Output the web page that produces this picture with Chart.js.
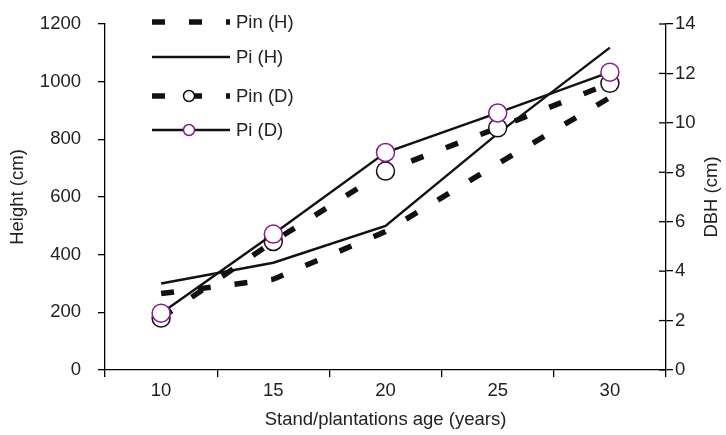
<!DOCTYPE html>
<html>
<head>
<meta charset="utf-8">
<script src="https://cdn.jsdelivr.net/npm/chart.js@4"></script>
<style>
  body { margin: 0; background: #fff; }
</style>
</head>
<body>
<canvas id="growthChart" width="726" height="435"></canvas>
<script>
const ages = ['10', '15', '20', '25', '30'];
const pinHeight = [265, 315, 480, 715, 945];
const piHeight = [300, 372, 500, 820, 1118];
const pinDbh = [2.1, 5.2, 8.05, 9.8, 11.6];
const piDbh = [2.3, 5.5, 8.8, 10.4, 12.05];
const seriesNames = ['Pin (H)', 'Pi (H)', 'Pin (D)', 'Pi (D)'];

const ink = '#111';
const purple = '#8a1a8a';
const dash = [13, 24];
const fontSize = 18.5;
const fontCss = fontSize + "px 'Liberation Sans', Arial, sans-serif";

Chart.defaults.font.family = "'Liberation Sans', Arial, sans-serif";
Chart.defaults.font.size = fontSize;
Chart.defaults.color = '#222';

// legend drawn by hand inside the plot, top-left
const insideLegend = {
    id: 'insideLegend',
    afterDraw(chart) {
        const c = chart.ctx;
        const rows = [22, 57, 96, 130];
        const x0 = 152, x1 = 230;
        c.save();
        chart.data.datasets.forEach((ds, i) => {
            const y = rows[i];
            c.strokeStyle = ink;
            c.lineWidth = ds.borderWidth;
            c.lineCap = 'butt';
            c.setLineDash(ds.borderDash || []);
            c.beginPath();
            c.moveTo(x0, y);
            c.lineTo(x1, y);
            c.stroke();
            c.setLineDash([]);
            if (ds.pointRadius > 0) {
                c.beginPath();
                c.arc(189, y, 5.5, 0, Math.PI * 2);
                c.fillStyle = '#fff';
                c.fill();
                c.lineWidth = 1.5;
                c.strokeStyle = ds.pointBorderColor;
                c.stroke();
            }
            c.fillStyle = '#222';
            c.font = fontCss;
            c.textAlign = 'left';
            c.textBaseline = 'middle';
            c.fillText(seriesNames[i], 236, y + 1);
        });
        c.restore();
    }
};

// right axis: ticks cross the axis line, title reads bottom-to-top
const rightAxisExtras = {
    id: 'rightAxisExtras',
    afterDraw(chart) {
        const c = chart.ctx;
        const s = chart.scales.y1;
        const area = chart.chartArea;
        c.save();
        c.strokeStyle = '#000';
        c.lineWidth = 1.3;
        s.ticks.forEach(t => {
            const y = s.getPixelForValue(t.value);
            c.beginPath();
            c.moveTo(area.right - 7, y);
            c.lineTo(area.right, y);
            c.stroke();
        });
        c.translate(712, (area.top + area.bottom) / 2);
        c.rotate(-Math.PI / 2);
        c.fillStyle = '#222';
        c.font = fontCss;
        c.textAlign = 'center';
        c.textBaseline = 'middle';
        c.fillText('DBH (cm)', 0, 0);
        c.restore();
    }
};

const axisLine = { color: '#000', width: 1.3 };
const tickMarks = { drawOnChartArea: false, drawTicks: true, tickLength: 7, color: '#000', lineWidth: 1.3 };
const plainNumber = v => String(v);

// fixed axis sizes so the plot box sits at 105..666 x 24..370
function fixWidth(w) {
    return s => {
        s.width = w;
        s.paddingTop = 0;
        s.paddingBottom = 0;
    };
}

new Chart(document.getElementById('growthChart'), {
    type: 'line',
    data: {
        labels: ages,
        datasets: [
            {
                label: seriesNames[0], data: pinHeight, yAxisID: 'y',
                borderColor: ink, borderWidth: 5.5, borderDash: dash, borderCapStyle: 'butt',
                pointRadius: 0, tension: 0, order: 3
            },
            {
                label: seriesNames[1], data: piHeight, yAxisID: 'y',
                borderColor: ink, borderWidth: 2.4,
                pointRadius: 0, tension: 0, order: 2
            },
            {
                label: seriesNames[2], data: pinDbh, yAxisID: 'y1',
                borderColor: ink, borderWidth: 5.5, borderDash: dash, borderCapStyle: 'butt',
                pointRadius: 9, pointBackgroundColor: '#fff', pointBorderColor: ink, pointBorderWidth: 1.5,
                tension: 0, order: 1
            },
            {
                label: seriesNames[3], data: piDbh, yAxisID: 'y1',
                borderColor: ink, borderWidth: 2.4,
                pointRadius: 9, pointBackgroundColor: '#fff', pointBorderColor: purple, pointBorderWidth: 1.5,
                tension: 0, order: 0
            }
        ]
    },
    options: {
        responsive: false,
        animation: false,
        devicePixelRatio: 1,
        layout: { padding: { top: 24 } },
        plugins: { legend: { display: false }, tooltip: { enabled: false } },
        scales: {
            x: {
                offset: true,
                grid: { ...tickMarks, offset: true },
                border: axisLine,
                ticks: { padding: 3 },
                title: { display: true, text: 'Stand/plantations age (years)', padding: { top: 4 } },
                afterFit(s) {
                    s.height = 65;
                    s.paddingLeft = 0;
                    s.paddingRight = 0;
                }
            },
            y: {
                position: 'left',
                min: 0, max: 1200,
                ticks: { stepSize: 200, padding: 17, callback: plainNumber },
                grid: tickMarks,
                border: axisLine,
                title: { display: true, text: 'Height (cm)', padding: { top: 7, bottom: 4 } },
                afterFit: fixWidth(105)
            },
            y1: {
                position: 'right',
                min: 0, max: 14,
                ticks: { stepSize: 2, padding: 2, callback: plainNumber },
                grid: tickMarks,
                border: axisLine,
                afterFit: fixWidth(60)
            }
        }
    },
    plugins: [insideLegend, rightAxisExtras]
});
</script>
</body>
</html>
